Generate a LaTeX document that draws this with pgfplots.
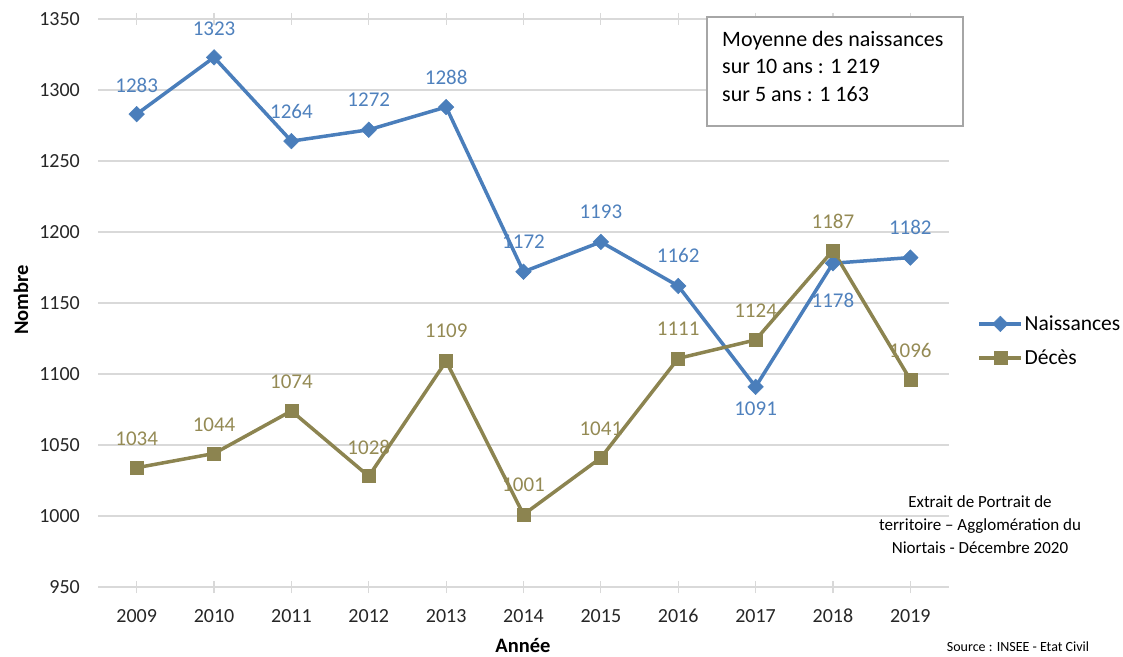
\documentclass[border=0pt]{standalone}
\usepackage{fontspec}
\setmainfont{Carlito}
\usepackage{pgfplots}
\pgfplotsset{compat=1.18}
\usepackage{pgfplotstable}
\definecolor{Bleu}{HTML}{4A7EBB}
\definecolor{BleuTxt}{HTML}{4F81BD}
\definecolor{Olive}{HTML}{8C8450}
\definecolor{OliveTxt}{HTML}{948A54}
\definecolor{Grille}{HTML}{D9D9D9}
\definecolor{Cadre}{HTML}{A6A6A6}

% annee, naissances (+ decalage etiquette), deces (+ decalage)
\pgfplotstableread{
x    n    no   d    do
2009 1283 29   1034 29
2010 1323 29   1044 29
2011 1264 30   1074 29
2012 1272 30   1028 29
2013 1288 30   1109 30
2014 1172 30   1001 30
2015 1193 30   1041 29
2016 1162 30   1111 30
2017 1091 -22  1124 29
2018 1178 -37  1187 29
2019 1182 30   1096 29
}\donnees

\newcommand\vingt{\fontsize{20}{24}\selectfont}
\pgfplotsset{
  naiss/.style={Bleu, line width=3.5pt, mark=square*, mark size=5.5pt,
    mark options={rotate=45, line width=0.5pt}},
  deces/.style={Olive, line width=3.5pt, mark=square*, mark size=6.5pt,
    mark options={line width=0.5pt}},
  etiq/.style={point meta=explicit symbolic,
    nodes near coords={\pgfmathprintnumber{\pgfkeysvalueof{/data point/y}}},
    nodes near coords style={anchor=center, yshift=\pgfplotspointmeta,
      font=\fontsize{21}{24}\selectfont,
      text=#1, /pgf/number format/assume math mode=true,
      /pgf/number format/1000 sep={}, /pgf/number format/fixed,
      /pgf/number format/precision=0}},
}

\begin{document}
\begin{tikzpicture}
\begin{axis}[
  at={(98pt,69pt)}, anchor=south west,
  scale only axis, width=851pt, height=568pt,
  xmin=2008.5, xmax=2019.5, ymin=950, ymax=1350,
  xtick={2009,2010,...,2019}, ytick={950,1000,...,1350},
  axis line style={draw=none},
  ymajorgrids, grid style={Grille, line width=1.2pt},
  ytick style={draw=none},
  xtick style={draw=Grille, line width=1.2pt},
  major tick length=12pt, xtick align=center,
  tick label style={font=\vingt, inner sep=0pt, text=black!85,
    /pgf/number format/assume math mode=true, /pgf/number format/1000 sep={}},
  xticklabel shift=16pt, yticklabel shift=18pt,
  clip=false,
  legend style={at={(1.0334,0.433)}, anchor=west, draw=none, fill=none,
    font=\fontsize{21.5}{24}\selectfont, row sep=15pt, inner sep=0pt,
    nodes={inner sep=1.5pt}},
  legend cell align=left,
  legend image code/.code={\draw[mark repeat=2,mark phase=2,#1]
    plot coordinates {(0pt,0pt) (21pt,0pt) (42pt,0pt)};},
]
\addplot[naiss, etiq=BleuTxt] table[x=x, y=n, meta=no] {\donnees};
\addlegendentry{Naissances}
\addplot[deces, etiq=OliveTxt] table[x=x, y=d, meta=do] {\donnees};
\addlegendentry{Décès}
\end{axis}

\draw[Cadre, fill=white, line width=1.5pt] (707pt,639pt) rectangle (963pt,530pt);
\node[anchor=north west, inner sep=0pt, align=left,
  font=\fontsize{22}{27.5}\selectfont] at (722pt,625pt)
  {Moyenne des naissances\\sur 10 ans : 1 219\\sur 5 ans : 1 163};

\node[align=center, font=\fontsize{17}{23}\selectfont] at (980pt,131pt)
  {Extrait de Portrait de\\territoire – Agglomération du\\Niortais - Décembre 2020};

\node[rotate=90, font=\fontsize{20.5}{22}\selectfont\bfseries] at (21pt,356pt) {Nombre};
\node[font=\fontsize{20.5}{22}\selectfont\bfseries] at (523pt,11pt) {Année};
\node[anchor=south, font=\fontsize{14}{16}\selectfont] at (1018pt,1pt)
  {Source : INSEE - Etat Civil};

\pgfresetboundingbox
\useasboundingbox (0pt,0pt) rectangle (1123pt,656pt);
\end{tikzpicture}
\end{document}
